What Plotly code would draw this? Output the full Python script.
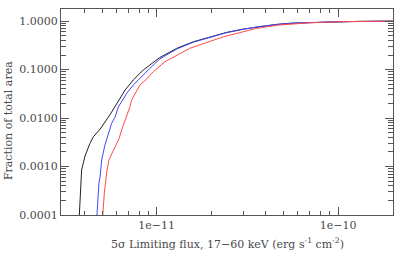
import plotly.graph_objects as go

# Black curve
black_x = [3.75e-12, 3.79e-12, 3.86e-12, 4.03e-12, 4.29e-12, 4.48e-12, 4.88e-12, 5.54e-12,
           6.15e-12, 6.70e-12, 7.43e-12, 8.44e-12, 1.04e-11, 1.29e-11, 1.59e-11, 1.96e-11,
           2.43e-11, 3.00e-11, 3.70e-11, 4.57e-11, 5.65e-11, 8.63e-11, 1.32e-10, 2.0e-10]
black_y = [1.0e-4, 2.8e-4, 8.5e-4, 1.64e-3, 3.0e-3, 4.1e-3, 5.9e-3, 1.18e-2,
           2.24e-2, 3.78e-2, 6.08e-2, 9.8e-2, 0.177, 0.274, 0.374, 0.474,
           0.585, 0.684, 0.778, 0.855, 0.91, 0.96, 0.99, 1.0]

# Blue curve
blue_x = [4.69e-12, 4.77e-12, 4.81e-12, 4.88e-12, 4.98e-12, 5.19e-12, 5.39e-12, 5.65e-12,
          5.90e-12, 6.15e-12, 6.55e-12, 6.84e-12, 7.43e-12, 8.09e-12, 9.18e-12, 1.04e-11,
          1.29e-11, 1.59e-11, 1.96e-11, 2.43e-11, 3.00e-11, 3.70e-11, 4.57e-11, 5.65e-11,
          8.63e-11, 1.32e-10, 2.0e-10]
blue_y = [1.0e-4, 2.8e-4, 4.6e-4, 6.2e-4, 1.36e-3, 2.77e-3, 4.25e-3, 7.8e-3,
          1.05e-2, 1.69e-2, 2.47e-2, 3.23e-2, 4.79e-2, 6.68e-2, 0.106, 0.165,
          0.265, 0.367, 0.466, 0.578, 0.678, 0.774, 0.852, 0.908,
          0.96, 0.99, 1.0]

# Red curve
red_x = [5.05e-12, 5.15e-12, 5.31e-12, 5.46e-12, 5.65e-12, 6.02e-12, 6.22e-12, 6.41e-12,
         6.70e-12, 7.13e-12, 7.28e-12, 7.76e-12, 8.09e-12, 8.81e-12, 9.18e-12, 9.58e-12,
         1.11e-11, 1.52e-11, 2.33e-11, 3.55e-11, 4.67e-11, 6.98e-11, 1.06e-10, 2.0e-10]
red_y = [1.0e-4, 2.8e-4, 7.7e-4, 1.36e-3, 1.81e-3, 3.0e-3, 3.81e-3, 5.66e-3,
         8.67e-3, 1.71e-2, 2.35e-2, 3.48e-2, 4.79e-2, 6.37e-2, 7.7e-2, 9.0e-2,
         0.145, 0.274, 0.474, 0.707, 0.827, 0.923, 0.977, 1.0]

x_tickvals = [1e-11, 1e-10]
x_ticktext = ["1e\u221211", "1e\u221210"]
y_tickvals = [1e-4, 1e-3, 1e-2, 1e-1, 1.0]
y_ticktext = ["0.0001", "0.0010", "0.0100", "0.1000", "1.0000"]

x_title = "5\u03c3 Limiting flux, 17\u221260 keV (erg s<sup>-1</sup> cm<sup>-2</sup>)"
y_title = "Fraction of total area"

x_minor = [m * 10.0 ** e for e in (-12, -11, -10) for m in range(2, 10)]
y_minor = [m * 10.0 ** e for e in (-4, -3, -2, -1, 0) for m in range(2, 10)]

FONT = "DejaVu Serif"
TXT = "#4a4a4a"
AX = "#555555"

fig = go.Figure()
for xs, ys, col in [(black_x, black_y, "#222222"), (blue_x, blue_y, "#4444ff"), (red_x, red_y, "#ff4a4a")]:
    fig.add_trace(go.Scatter(x=xs, y=ys, mode="lines", line=dict(color=col, width=1), showlegend=False))

fig.update_layout(
    width=415, height=276,
    margin=dict(l=61, r=22, t=9, b=61),
    paper_bgcolor="white", plot_bgcolor="white",
    font=dict(family=FONT, size=11, color=TXT),
)
fig.update_xaxes(
    type="log", range=[-11.527, -9.697], automargin=False,
    tickmode="array", tickvals=x_tickvals, ticktext=x_ticktext,
    ticks="inside", ticklen=8, tickcolor=AX, tickwidth=1,
    showline=True, linecolor=AX, linewidth=1, mirror="ticks",
    showgrid=False, zeroline=False,
    minor=dict(tickmode="array", tickvals=x_minor, ticks="inside", ticklen=4, tickcolor=AX, showgrid=False),
    tickfont=dict(family=FONT, size=11, color=TXT),
)
fig.update_yaxes(
    type="log", range=[-4, 0.25], automargin=False,
    tickmode="array", tickvals=y_tickvals, ticktext=y_ticktext,
    ticks="inside", ticklen=8, tickcolor=AX, tickwidth=1,
    showline=True, linecolor=AX, linewidth=1, mirror="ticks",
    showgrid=False, zeroline=False,
    minor=dict(tickmode="array", tickvals=y_minor, ticks="inside", ticklen=5, tickcolor=AX, showgrid=False),
    tickfont=dict(family=FONT, size=11, color=TXT),
)
fig.add_annotation(text=x_title, xref="paper", yref="paper", x=0.5, y=-0.136,
                   xanchor="center", yanchor="middle", showarrow=False,
                   font=dict(family=FONT, size=11, color=TXT))
fig.add_annotation(text=y_title, xref="paper", yref="paper", x=-0.16, y=0.46,
                   xanchor="center", yanchor="middle", showarrow=False, textangle=-90,
                   font=dict(family=FONT, size=11, color=TXT))

fig.write_html("out.html", config={"displayModeBar": False},
               post_script="document.body.style.margin='0';")
